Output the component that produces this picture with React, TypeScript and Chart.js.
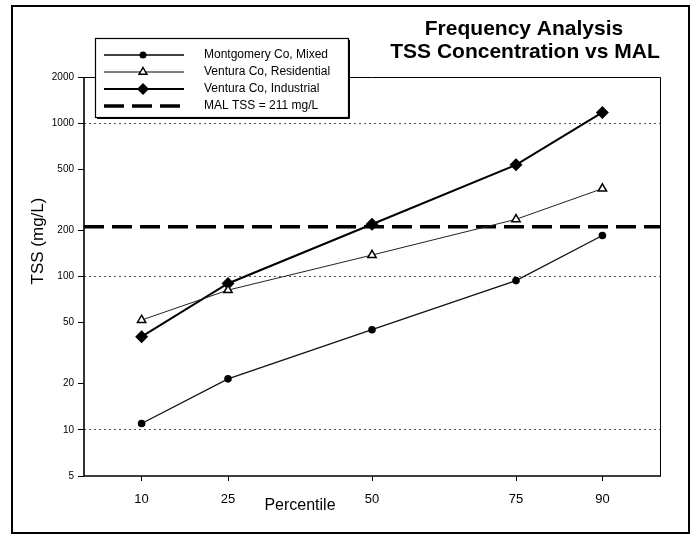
import React, { useEffect, useRef } from 'react';
import { Chart, registerables } from 'chart.js';

Chart.register(...registerables);

const percentiles = [10, 25, 50, 75, 90];
const montgomery = [11, 21.5, 45, 94, 185];
const residential = [52, 81.5, 138, 236, 374];
const industrial = [40.5, 90, 219, 535, 1175];
const malValue = 211;
const malX = [0, 100];
const yTickValues = [5, 10, 20, 50, 100, 200, 500, 1000, 2000];
const gridValues = [10, 100, 1000];
const seriesLabels = [
  'Montgomery Co, Mixed',
  'Ventura Co, Residential',
  'Ventura Co, Industrial',
  'MAL TSS = 211 mg/L',
];
const titleLines = ['Frequency Analysis', 'TSS Concentration vs MAL'];
const xTitle = 'Percentile';
const yTitle = 'TSS (mg/L)';

const FONT = "'Liberation Sans', Arial, Helvetica, sans-serif";

function drawMarker(ctx: CanvasRenderingContext2D, kind: string, x: number, y: number) {
  ctx.save();
  ctx.setLineDash([]);
  if (kind === 'circle') {
    ctx.fillStyle = '#000';
    ctx.beginPath();
    ctx.arc(x, y, 3.5, 0, Math.PI * 2);
    ctx.fill();
  } else if (kind === 'triangle') {
    const r = 4.5;
    ctx.fillStyle = '#fff';
    ctx.strokeStyle = '#000';
    ctx.lineWidth = 1.5;
    ctx.beginPath();
    ctx.moveTo(x, y - r);
    ctx.lineTo(x + r * 0.866, y + r * 0.5);
    ctx.lineTo(x - r * 0.866, y + r * 0.5);
    ctx.closePath();
    ctx.fill();
    ctx.stroke();
  } else if (kind === 'diamond') {
    const r = 6;
    ctx.fillStyle = '#000';
    ctx.beginPath();
    ctx.moveTo(x, y - r);
    ctx.lineTo(x + r, y);
    ctx.lineTo(x, y + r);
    ctx.lineTo(x - r, y);
    ctx.closePath();
    ctx.fill();
  }
  ctx.restore();
}

const decorPlugin = {
  id: 'decor',
  beforeDraw(chart: any) {
    const ctx = chart.ctx;
    ctx.save();
    ctx.fillStyle = '#fff';
    ctx.fillRect(0, 0, chart.width, chart.height);
    ctx.restore();
  },
  afterDraw(chart: any) {
    const ctx: CanvasRenderingContext2D = chart.ctx;
    const a = chart.chartArea;
    ctx.save();
    ctx.setLineDash([]);
    ctx.strokeStyle = '#000';

    // plot box
    ctx.lineWidth = 1;
    ctx.beginPath();
    ctx.moveTo(a.left, a.top + 0.5);
    ctx.lineTo(a.right + 0.5, a.top + 0.5);
    ctx.lineTo(a.right + 0.5, a.bottom);
    ctx.stroke();
    ctx.lineWidth = 1.6;
    ctx.beginPath();
    ctx.moveTo(a.left, a.top);
    ctx.lineTo(a.left, a.bottom);
    ctx.lineTo(a.right + 1, a.bottom);
    ctx.stroke();

    // outer frame
    ctx.lineWidth = 2;
    ctx.strokeRect(12, 6, 677, 527);

    // legend
    const lx = 95, ly = 38, lw = 253, lh = 79;
    ctx.fillStyle = '#fff';
    ctx.fillRect(lx, ly, lw, lh);
    ctx.lineWidth = 1.2;
    ctx.strokeRect(lx + 0.5, ly + 0.5, lw, lh);
    ctx.lineWidth = 1;
    ctx.beginPath();
    ctx.moveTo(lx + lw + 1.5, ly + 2);
    ctx.lineTo(lx + lw + 1.5, ly + lh + 1.5);
    ctx.lineTo(lx + 2, ly + lh + 1.5);
    ctx.stroke();

    const rows = [55, 72, 89, 106];
    const styles = [
      { w: 1.3, dash: [] as number[], m: 'circle' },
      { w: 1, dash: [] as number[], m: 'triangle' },
      { w: 2, dash: [] as number[], m: 'diamond' },
      { w: 3.5, dash: [20, 8], m: '' },
    ];
    ctx.font = `12px ${FONT}`;
    ctx.textAlign = 'left';
    ctx.textBaseline = 'middle';
    seriesLabels.forEach((label, i) => {
      const y = rows[i];
      const s = styles[i];
      ctx.save();
      ctx.strokeStyle = '#000';
      ctx.lineWidth = s.w;
      ctx.setLineDash(s.dash);
      ctx.beginPath();
      ctx.moveTo(104, y);
      ctx.lineTo(184, y);
      ctx.stroke();
      ctx.restore();
      if (s.m) drawMarker(ctx, s.m, 143, y);
      ctx.fillStyle = '#000';
      ctx.fillText(label, 204, y);
    });

    // title
    ctx.font = `bold 21px ${FONT}`;
    ctx.textAlign = 'center';
    ctx.fillStyle = '#000';
    ctx.fillText(titleLines[0], 524, 29);
    ctx.fillText(titleLines[1], 525, 52);

    // x title
    ctx.font = `16px ${FONT}`;
    ctx.fillText(xTitle, 300, 506);

    // y title
    ctx.save();
    ctx.translate(38, 241);
    ctx.rotate(-Math.PI / 2);
    ctx.font = `17px ${FONT}`;
    ctx.fillText(yTitle, 0, 0);
    ctx.restore();

    ctx.restore();
  },
};

export default function App() {
  const ref = useRef<HTMLCanvasElement | null>(null);

  useEffect(() => {
    document.body.style.margin = '0';
    const canvas = ref.current;
    if (!canvas) return;
    const toPts = (ys: number[]) => percentiles.map((x, i) => ({ x, y: ys[i] }));
    const chart = new Chart(canvas, {
      type: 'line',
      data: {
        datasets: [
          {
            label: seriesLabels[0],
            data: toPts(montgomery),
            borderColor: '#111',
            borderWidth: 1.3,
            pointStyle: 'circle',
            pointRadius: 3.8,
            pointBackgroundColor: '#000',
            pointBorderColor: '#000',
            pointBorderWidth: 0,
          },
          {
            label: seriesLabels[1],
            data: toPts(residential),
            borderColor: '#222',
            borderWidth: 1,
            pointStyle: 'triangle',
            pointRadius: 4.8,
            pointBackgroundColor: '#fff',
            pointBorderColor: '#000',
            pointBorderWidth: 1.5,
          },
          {
            label: seriesLabels[2],
            data: toPts(industrial),
            borderColor: '#000',
            borderWidth: 2,
            pointStyle: 'rectRot',
            pointRadius: 6.5,
            pointBackgroundColor: '#000',
            pointBorderColor: '#000',
            pointBorderWidth: 0,
          },
          {
            label: seriesLabels[3],
            data: malX.map((x) => ({ x, y: malValue })),
            borderColor: '#000',
            borderWidth: 3.5,
            borderDash: [20, 8],
            pointRadius: 0,
          },
        ],
      },
      options: {
        animation: false,
        responsive: false,
        devicePixelRatio: 1,
        layout: { padding: { top: 77, right: 37, bottom: 0, left: 0 } },
        plugins: {
          legend: { display: false },
          title: { display: false },
          tooltip: { enabled: false },
        },
        scales: {
          x: {
            type: 'linear',
            min: 0,
            max: 100,
            afterBuildTicks: (s: any) => {
              s.ticks = percentiles.map((v) => ({ value: v }));
            },
            afterFit: (s: any) => {
              s.height = 59;
            },
            border: { display: false },
            grid: {
              drawOnChartArea: false,
              drawTicks: true,
              tickLength: 5,
              tickColor: '#000',
              tickWidth: 1,
            },
            ticks: {
              autoSkip: false,
              maxRotation: 0,
              padding: 11,
              color: '#000',
              font: { family: FONT, size: 13 },
              callback: (v: any) => String(v),
            },
          },
          y: {
            type: 'logarithmic',
            min: 5,
            max: 2000,
            afterBuildTicks: (s: any) => {
              s.ticks = yTickValues.map((v) => ({ value: v }));
            },
            afterFit: (s: any) => {
              s.width = 84;
            },
            border: { display: false, dash: [2, 3] },
            grid: {
              drawOnChartArea: true,
              color: (c: any) =>
                c.tick && gridValues.includes(c.tick.value) ? '#555' : 'rgba(0,0,0,0)',
              lineWidth: 1,
              tickLength: 6,
              tickColor: '#000',
              tickWidth: 1,
              tickBorderDash: [],
            },
            ticks: {
              autoSkip: false,
              padding: 4,
              color: '#000',
              font: { family: FONT, size: 10 },
              callback: (v: any) => String(v),
            },
          },
        },
      },
      plugins: [decorPlugin],
    });
    return () => chart.destroy();
  }, []);

  return (
    <div style={{ width: 697, height: 535, position: 'relative' }}>
      <canvas ref={ref} width={697} height={535} />
    </div>
  );
}
